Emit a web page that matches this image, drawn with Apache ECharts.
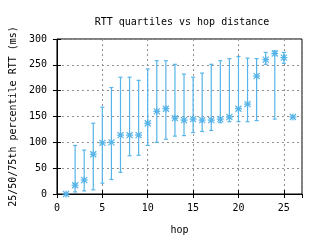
<!DOCTYPE html>
<html>
<head>
<meta charset="utf-8">
<script src="https://cdn.jsdelivr.net/npm/echarts@6/dist/echarts.min.js"></script>
<style>html,body{margin:0;padding:0;background:#fff}#c{width:320px;height:240px}</style>
</head>
<body>
<div id="c"></div>
<script>
var hops   = [1, 2, 3, 4, 5, 6, 7, 8, 9, 10, 11, 12, 13, 14, 15, 16, 17, 18, 19, 20, 21, 22, 23, 24, 25, 26];
var q25    = [0, 4, 6, 8, 21, 28, 42, 74, 75, 94, 100, 106, 112, 113, 119, 121, 123, 138, 140, 140, 140, 142, 251, 145, 253, 149];
var median = [0, 17, 27, 77, 99, 100, 114, 114, 114, 137, 160, 165, 147, 143, 145, 143, 143, 145, 149, 165, 174, 228, 260, 272, 264, 149];
var q75    = [0, 94, 85, 137, 168, 206, 226, 226, 220, 242, 258, 258, 251, 232, 226, 234, 251, 258, 262, 266, 263, 262, 274, 277, 274, 149];
var xTicks = [0, 5, 10, 15, 20, 25];
var yTicks = [0, 50, 100, 150, 200, 250, 300];

var FONT = 'DejaVu Sans Mono';
var COLOR = '#56b4e9';
var data = hops.map(function (h, i) { return [h, q25[i], median[i], q75[i]]; });

var chart = echarts.init(document.getElementById('c'), null, {renderer: 'canvas'});
function renderItem(params, api) {
  var x = api.value(0);
  var lo = api.coord([x, api.value(1)]);
  var mid = api.coord([x, api.value(2)]);
  var hi = api.coord([x, api.value(3)]);
  var st = {stroke: COLOR, lineWidth: 1.2, fill: null};
  var ch = [];
  if (Math.abs(hi[1] - lo[1]) > 0.5) {
    ch.push({type: 'line', shape: {x1: lo[0], y1: lo[1], x2: hi[0], y2: hi[1]}, style: st});
    ch.push({type: 'line', shape: {x1: lo[0] - 2, y1: lo[1], x2: lo[0] + 2, y2: lo[1]}, style: st});
    ch.push({type: 'line', shape: {x1: hi[0] - 2, y1: hi[1], x2: hi[0] + 2, y2: hi[1]}, style: st});
  }
  var s = 3.5, d = 3;
  ch.push({type: 'line', shape: {x1: mid[0] - s, y1: mid[1], x2: mid[0] + s, y2: mid[1]}, style: st});
  ch.push({type: 'line', shape: {x1: mid[0], y1: mid[1] - s, x2: mid[0], y2: mid[1] + s}, style: st});
  ch.push({type: 'line', shape: {x1: mid[0] - d, y1: mid[1] - d, x2: mid[0] + d, y2: mid[1] + d}, style: st});
  ch.push({type: 'line', shape: {x1: mid[0] - d, y1: mid[1] + d, x2: mid[0] + d, y2: mid[1] - d}, style: st});
  ch.push({type: 'rect', shape: {x: mid[0] - 1.5, y: mid[1] - 1.5, width: 3, height: 3}, style: {fill: COLOR}});
  return {type: 'group', children: ch};
}
var gridLine = {show: true, lineStyle: {color: '#909090', type: [2, 3], width: 1}};
var labelStyle = {fontFamily: FONT, fontSize: 10, color: '#000'};
chart.setOption({
  animation: false,
  backgroundColor: '#fff',
  title: {
    text: 'RTT quartiles vs hop distance',
    left: 177, top: 12, textAlign: 'center',
    textStyle: {fontFamily: FONT, fontSize: 10, fontWeight: 'normal', color: '#000'}
  },
  grid: {left: 52, right: 18, top: 39, bottom: 42, show: true, borderColor: '#000', borderWidth: 1, backgroundColor: 'transparent'},
  xAxis: [{
    type: 'value', min: 0, max: 27, interval: 5,
    name: 'hop', nameLocation: 'middle', nameGap: 31,
    nameTextStyle: labelStyle,
    axisLine: {show: true, lineStyle: {color: '#000'}},
    axisTick: {show: true, inside: true, length: 4, lineStyle: {color: '#000'}},
    axisLabel: Object.assign({margin: 9, showMaxLabel: false, formatter: function (v) { return xTicks.indexOf(v) >= 0 ? String(v) : ''; }}, labelStyle),
    splitLine: gridLine
  }, {
    type: 'value', min: 0, max: 27, interval: 5, position: 'top',
    axisLine: {show: false}, axisLabel: {show: false}, splitLine: {show: false},
    axisTick: {show: true, inside: true, length: 4, lineStyle: {color: '#000'}}
  }],
  yAxis: [{
    type: 'value', min: 0, max: 300, interval: 50,
    name: '25/50/75th percentile RTT (ms)', nameLocation: 'middle', nameGap: 34,
    nameTextStyle: labelStyle,
    axisLine: {show: true, lineStyle: {color: '#000'}},
    axisTick: {show: true, inside: true, length: 4, lineStyle: {color: '#000'}},
    axisLabel: Object.assign({margin: 10, formatter: function (v) { return yTicks.indexOf(v) >= 0 ? String(v) : ''; }}, labelStyle),
    splitLine: gridLine
  }, {
    type: 'value', min: 0, max: 300, interval: 50, position: 'right',
    axisLine: {show: false}, axisLabel: {show: false}, splitLine: {show: false},
    axisTick: {show: true, inside: true, length: 4, lineStyle: {color: '#000'}}
  }],
  series: [{
    type: 'custom',
    renderItem: renderItem,
    data: data,
    encode: {x: 0, y: [1, 2, 3]},
    clip: false
  }]
});
</script>
</body>
</html>
